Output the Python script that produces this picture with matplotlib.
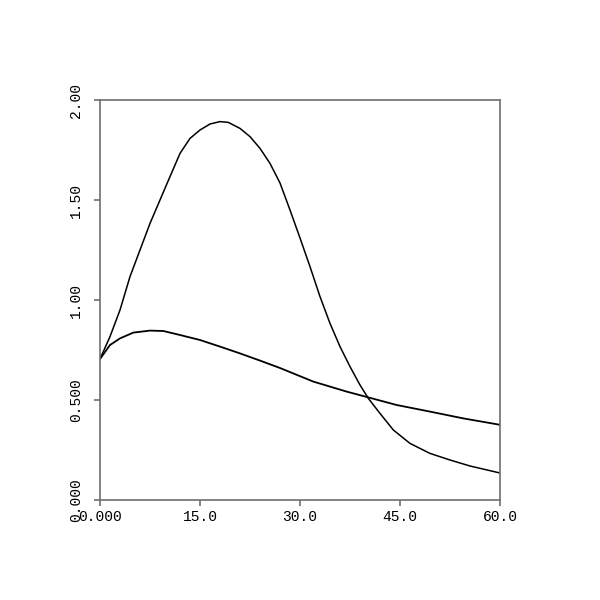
import matplotlib
matplotlib.use("Agg")
import matplotlib.pyplot as plt

# series
t_peak = [0, 1.5, 3, 4.5, 6, 7.5, 9, 10.5, 12, 13.5, 15, 16.5, 18, 19.25,
          21, 22.5, 24, 25.5, 27, 28.5, 30, 31.5, 33, 34.5, 36, 37.5, 39,
          40.25, 42, 44, 46.5, 49.5, 52.5, 55.5, 60]
v_peak = [0.705, 0.817, 0.95, 1.117, 1.25, 1.383, 1.50, 1.617, 1.733, 1.808,
          1.85, 1.88, 1.892, 1.888, 1.858, 1.817, 1.758, 1.683, 1.585, 1.45,
          1.31, 1.167, 1.017, 0.883, 0.767, 0.667, 0.575, 0.508, 0.433, 0.35,
          0.283, 0.233, 0.20, 0.17, 0.135]

t_flat = [0, 1.5, 3, 5, 7.5, 9.5, 12, 15, 18, 21, 24, 27, 32, 37, 40.25,
          44.5, 49.5, 54.5, 60]
v_flat = [0.705, 0.775, 0.808, 0.837, 0.847, 0.845, 0.825, 0.80, 0.767,
          0.733, 0.697, 0.66, 0.592, 0.542, 0.513, 0.475, 0.442, 0.408,
          0.376]

x_ticks = [0, 15, 30, 45, 60]
x_labels = ["0.000", "15.0", "30.0", "45.0", "60.0"]
y_ticks = [0, 0.5, 1.0, 1.5, 2.0]
y_labels = ["0.000", "0.500", "1.00", "1.50", "2.00"]

plt.rcParams["font.family"] = ["Liberation Mono", "DejaVu Sans Mono"]

fig = plt.figure(figsize=(6, 6), dpi=100)
ax = fig.add_axes([1 / 6, 1 / 6, 2 / 3, 2 / 3])

ax.plot(t_peak, v_peak, color="black", linewidth=1.1)
ax.plot(t_flat, v_flat, color="black", linewidth=1.3)

ax.set_xlim(0, 60)
ax.set_ylim(0, 2)
ax.set_xticks(x_ticks)
ax.set_xticklabels(x_labels)
ax.set_yticks(y_ticks)
ax.set_yticklabels(y_labels, rotation=90, va="center")

for s in ax.spines.values():
    s.set_color("#6e6e6e")
    s.set_linewidth(1.2)
ax.tick_params(direction="out", length=4, width=1.2, color="#6e6e6e",
               labelsize=10.5, labelcolor="black")
ax.tick_params(axis="x", pad=3)
ax.tick_params(axis="y", pad=8)

fig.savefig("out.png", dpi=100, facecolor="white")
